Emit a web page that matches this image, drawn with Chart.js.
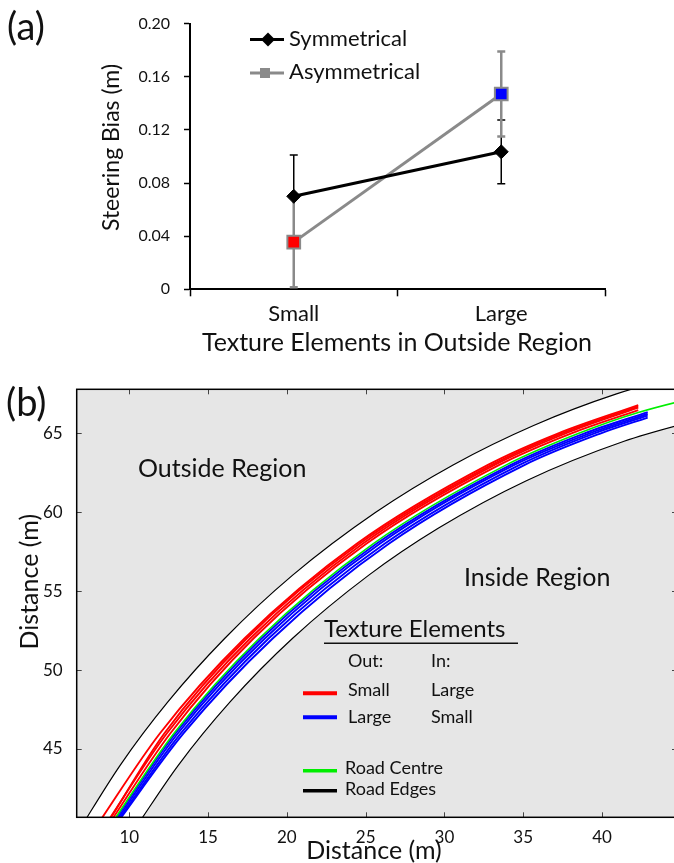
<!DOCTYPE html>
<html>
<head>
<meta charset="utf-8">
<script src="https://cdn.jsdelivr.net/npm/chart.js@4.4.1/dist/chart.umd.min.js"></script>
<style>
	html, body { margin: 0; padding: 0; background: #fff; }
	body { width: 674px; height: 863px; overflow: hidden; position: relative; }
	#wrapA { position: absolute; left: 0; top: 0; width: 674px; height: 360px; }
	#wrapB { position: absolute; left: 0; top: 360px; width: 690px; height: 503px; }
</style>
</head>
<body>
<div id="wrapA"><canvas id="chartA" width="674" height="360"></canvas></div>
<div id="wrapB"><canvas id="chartB" width="690" height="503"></canvas></div>
<script>
/* global Chart */

// (a) steering bias, mean +- error
var categories = ['Small', 'Large'];
var seriesNames = ['Symmetrical', 'Asymmetrical'];
var symMean = [0.070, 0.1035];
var symErr = [0.031, 0.024];
var asymMean = [0.0355, 0.147];
var asymErr = [0.034, 0.032];
var biasTicks = [0, 0.04, 0.08, 0.12, 0.16, 0.20];

// (b) road and trajectories, [x, y] in metres
var distTicksX = [10, 15, 20, 25, 30, 35, 40];
var distTicksY = [45, 50, 55, 60, 65];
var outerEdge = [[6.60, 39.52], [9.44, 44], [12.46, 48], [16.05, 52], [20.35, 56], [25.64, 60], [30.55, 63], [35.66, 65.5], [40.92, 67.5], [46.27, 69]];
var innerEdge = [[10.39, 40], [13.13, 44], [16.41, 48], [20.35, 52], [25.18, 56], [29.63, 59], [35.20, 62], [41.40, 64.5], [46.61, 66]];
var roadCentre = [[8.69, 40], [12.84, 46], [18.24, 52], [25.47, 58], [33.93, 63], [38.53, 65], [42.30, 66.32], [49.03, 68]];
var red1 = [[7.84, 40], [11.95, 46], [17.31, 52], [24.43, 58], [32.76, 63], [37.23, 65], [42.30, 66.79]];
var red2 = [[8.36, 40], [12.39, 46], [17.67, 52], [24.81, 58], [33.19, 63], [37.69, 65], [42.30, 66.63]];
var red3 = [[8.55, 40], [12.61, 46], [17.88, 52], [25.04, 58], [33.48, 63], [38.06, 65], [42.30, 66.47]];
var red4 = [[8.43, 40], [12.23, 46], [17.45, 52], [24.60, 58], [32.99, 63], [37.45, 65], [42.30, 66.71]];
var blue1 = [[8.74, 40], [12.94, 46], [18.39, 52], [25.68, 58], [34.21, 63], [38.89, 65], [42.90, 66.34]];
var blue2 = [[8.85, 40], [13.09, 46], [18.60, 52], [25.90, 58], [34.44, 63], [39.21, 65], [42.90, 66.24]];
var blue3 = [[8.94, 40], [13.28, 46], [18.84, 52], [26.20, 58], [34.77, 63], [39.52, 65], [42.90, 66.13]];
var blue4 = [[9.00, 40], [13.45, 46], [19.10, 52], [26.47, 58], [35.10, 63], [39.93, 65], [42.90, 66.00]];

Chart.defaults.font.family = 'Lato';
Chart.defaults.color = '#111';

var GREY = '#8a8a8a';
var BG = '#e6e6e6';

function pts(a)
{
	return a.map(function (p) { return {x: p[0], y: p[1]}; });
}

// free text drawn on the canvas
function textPlugin(id, items)
{
	return {
		id: id,
		afterDraw: function (chart)
		{
			var ctx = chart.ctx;
			items.forEach(function (t)
			{
				ctx.save();
				ctx.font = t.font + 'px Lato';
				ctx.fillStyle = '#111';
				ctx.textBaseline = 'middle';
				ctx.textAlign = t.align || 'left';
				ctx.translate(t.x, t.y);
				if (t.rot)
					ctx.rotate(t.rot);
				ctx.fillText(t.text, 0, 0);
				ctx.restore();
			});
		}
	};
}

var errorBars = {
	id: 'errorBars',
	beforeDatasetsDraw: function (chart)
	{
		var ctx = chart.ctx, xs = chart.scales.x, ys = chart.scales.y;
		function bars(mean, err, color, w)
		{
			ctx.save();
			ctx.strokeStyle = color;
			ctx.lineWidth = w;
			mean.forEach(function (m, i)
			{
				var px = xs.getPixelForValue(i);
				var top = ys.getPixelForValue(m + err[i]);
				var bot = ys.getPixelForValue(m - err[i]);
				ctx.beginPath();
				ctx.moveTo(px, top); ctx.lineTo(px, bot);
				ctx.moveTo(px - 4, top); ctx.lineTo(px + 4, top);
				ctx.moveTo(px - 4, bot); ctx.lineTo(px + 4, bot);
				ctx.stroke();
			});
			ctx.restore();
		}
		bars(symMean, symErr, '#000', 1.5);
		bars(asymMean, asymErr, GREY, 2.5);
	}
};

var legendA = {
	id: 'legendA',
	afterDraw: function (chart)
	{
		var ctx = chart.ctx;
		ctx.save();
		ctx.lineWidth = 3;
		ctx.strokeStyle = '#000';
		ctx.beginPath(); ctx.moveTo(250, 39.5); ctx.lineTo(284, 39.5); ctx.stroke();
		ctx.fillStyle = '#000';
		ctx.beginPath();
		ctx.moveTo(268, 32.5); ctx.lineTo(275, 39.5); ctx.lineTo(268, 46.5); ctx.lineTo(261, 39.5);
		ctx.closePath(); ctx.fill();
		ctx.strokeStyle = GREY;
		ctx.beginPath(); ctx.moveTo(250, 73); ctx.lineTo(284, 73); ctx.stroke();
		ctx.fillStyle = GREY;
		ctx.fillRect(260, 68, 10, 10);
		ctx.font = '22px Lato';
		ctx.fillStyle = '#111';
		ctx.textBaseline = 'middle';
		ctx.fillText(seriesNames[0], 289, 39);
		ctx.fillText(seriesNames[1], 289, 72);
		ctx.restore();
	}
};

new Chart(document.getElementById('chartA'), {
	type: 'line',
	data: {
		labels: categories,
		datasets: [
			{
				label: seriesNames[0],
				data: symMean,
				borderColor: '#000',
				borderWidth: 3,
				pointStyle: 'rectRot',
				pointRadius: 7,
				pointBackgroundColor: '#000',
				pointBorderColor: '#000',
				pointBorderWidth: 1
			},
			{
				label: seriesNames[1],
				data: asymMean,
				borderColor: GREY,
				borderWidth: 3,
				pointStyle: 'rect',
				pointRadius: 9,
				pointBackgroundColor: ['#ff0000', '#0000ff'],
				pointBorderColor: GREY,
				pointBorderWidth: 2
			}
		]
	},
	options: {
		responsive: false,
		animation: false,
		layout: {padding: {top: 17.3, right: 69, bottom: 0, left: 0}},
		plugins: {legend: {display: false}, tooltip: {enabled: false}},
		scales: {
			x: {
				offset: true,
				afterFit: function (s) { s.height = 70.7; },
				border: {color: '#000', width: 2},
				grid: {offset: true, drawOnChartArea: false, tickLength: 7, tickColor: '#000', tickWidth: 1.5},
				ticks: {font: {size: 22}, color: '#111', padding: 4}
			},
			y: {
				min: 0,
				max: 0.2,
				afterFit: function (s) { s.width = 190; },
				afterBuildTicks: function (s) { s.ticks = biasTicks.map(function (v) { return {value: v}; }); },
				border: {color: '#000', width: 2},
				grid: {drawOnChartArea: false, tickLength: 6, tickColor: '#000', tickWidth: 1.5},
				ticks: {
					font: {size: 16}, color: '#111', padding: 14,
					callback: function (v) { return v === 0 ? '0' : v.toFixed(2); }
				}
			}
		}
	},
	plugins: [errorBars, legendA, textPlugin('textA', [
		{text: '(a)', x: 7, y: 28, font: 38},
		{text: 'Steering Bias (m)', x: 112, y: 147.5, font: 23, align: 'center', rot: -Math.PI / 2},
		{text: 'Texture Elements in Outside Region', x: 397, y: 343, font: 25, align: 'center'}
	])]
});

// box with inward ticks on all four sides
var boxTicks = {
	id: 'boxTicks',
	afterDatasetsDraw: function (chart)
	{
		var ctx = chart.ctx, a = chart.chartArea, xs = chart.scales.x, ys = chart.scales.y;
		ctx.save();
		ctx.strokeStyle = '#444';
		ctx.lineWidth = 1;
		ctx.beginPath();
		xs.ticks.forEach(function (t)
		{
			var p = Math.round(xs.getPixelForValue(t.value)) + 0.5;
			ctx.moveTo(p, a.bottom); ctx.lineTo(p, a.bottom - 5);
			ctx.moveTo(p, a.top); ctx.lineTo(p, a.top + 5);
		});
		ys.ticks.forEach(function (t)
		{
			var p = Math.round(ys.getPixelForValue(t.value)) + 0.5;
			ctx.moveTo(a.left, p); ctx.lineTo(a.left + 5, p);
			ctx.moveTo(a.right, p); ctx.lineTo(a.right - 5, p);
		});
		ctx.stroke();
		ctx.strokeStyle = '#000';
		ctx.lineWidth = 1.5;
		ctx.strokeRect(a.left, a.top, a.right - a.left, a.bottom - a.top);
		ctx.restore();
	}
};

var legendB = {
	id: 'legendB',
	afterDraw: function (chart)
	{
		var ctx = chart.ctx;
		function sample(y, color, w)
		{
			ctx.strokeStyle = color;
			ctx.lineWidth = w;
			ctx.beginPath(); ctx.moveTo(303, y); ctx.lineTo(337, y); ctx.stroke();
		}
		ctx.save();
		sample(333.3, '#ff0000', 4);
		sample(357.3, '#0000ff', 4);
		sample(410.7, '#00ee00', 3.5);
		sample(430.7, '#000', 3.5);
		ctx.strokeStyle = '#111';
		ctx.lineWidth = 1.5;
		ctx.beginPath(); ctx.moveTo(324, 283.3); ctx.lineTo(518, 283.3); ctx.stroke();
		ctx.restore();
	}
};

function lineSet(data, color, width)
{
	return {
		data: pts(data),
		borderColor: color,
		borderWidth: width,
		showLine: true,
		pointRadius: 0,
		fill: false,
		cubicInterpolationMode: 'monotone'
	};
}

var outerSet = lineSet(outerEdge, '#000', 1.2);
outerSet.fill = 'end';
outerSet.backgroundColor = BG;
var innerSet = lineSet(innerEdge, '#000', 1.2);
innerSet.fill = 'start';
innerSet.backgroundColor = BG;

new Chart(document.getElementById('chartB'), {
	type: 'scatter',
	data: {
		datasets: [
			lineSet(roadCentre, '#00ee00', 1.6),
			lineSet(red1, '#ff0000', 1.9),
			lineSet(red2, '#ff0000', 1.9),
			lineSet(red3, '#ff0000', 1.9),
			lineSet(red4, '#ff0000', 1.9),
			lineSet(blue1, '#0000ff', 1.9),
			lineSet(blue2, '#0000ff', 1.9),
			lineSet(blue3, '#0000ff', 1.9),
			lineSet(blue4, '#0000ff', 1.9),
			outerSet,
			innerSet
		]
	},
	options: {
		responsive: false,
		animation: false,
		layout: {padding: {top: 29.3, right: 13, bottom: 0, left: 0}},
		plugins: {legend: {display: false}, tooltip: {enabled: false}},
		scales: {
			x: {
				type: 'linear',
				min: 6.662,
				max: 44.76,
				afterFit: function (s) { s.height = 45.7; },
				afterBuildTicks: function (s) { s.ticks = distTicksX.map(function (v) { return {value: v}; }); },
				border: {display: false},
				grid: {display: false},
				ticks: {font: {size: 17}, color: '#111', padding: 2}
			},
			y: {
				type: 'linear',
				min: 40.673,
				max: 67.79,
				afterFit: function (s) { s.width = 76.7; },
				afterBuildTicks: function (s) { s.ticks = distTicksY.map(function (v) { return {value: v}; }); },
				border: {display: false},
				grid: {display: false},
				ticks: {font: {size: 17}, color: '#111', padding: 6}
			}
		}
	},
	plugins: [boxTicks, legendB, textPlugin('textB', [
		{text: '(b)', x: 6, y: 44, font: 38},
		{text: 'Outside Region', x: 138, y: 109.3, font: 25},
		{text: 'Inside Region', x: 464, y: 218.3, font: 25},
		{text: 'Texture Elements', x: 324, y: 269, font: 24},
		{text: 'Out:', x: 348, y: 301, font: 18},
		{text: 'In:', x: 431, y: 301, font: 18},
		{text: 'Small', x: 348, y: 330, font: 18},
		{text: 'Large', x: 431, y: 330, font: 18},
		{text: 'Large', x: 348, y: 356.7, font: 18},
		{text: 'Small', x: 431, y: 356.7, font: 18},
		{text: 'Road Centre', x: 345, y: 408, font: 18},
		{text: 'Road Edges', x: 345, y: 429.3, font: 18},
		{text: 'Distance (m)', x: 30, y: 221.7, font: 25, align: 'center', rot: -Math.PI / 2},
		{text: 'Distance (m)', x: 374, y: 491, font: 25, align: 'center'}
	])]
});
</script>
</body>
</html>
